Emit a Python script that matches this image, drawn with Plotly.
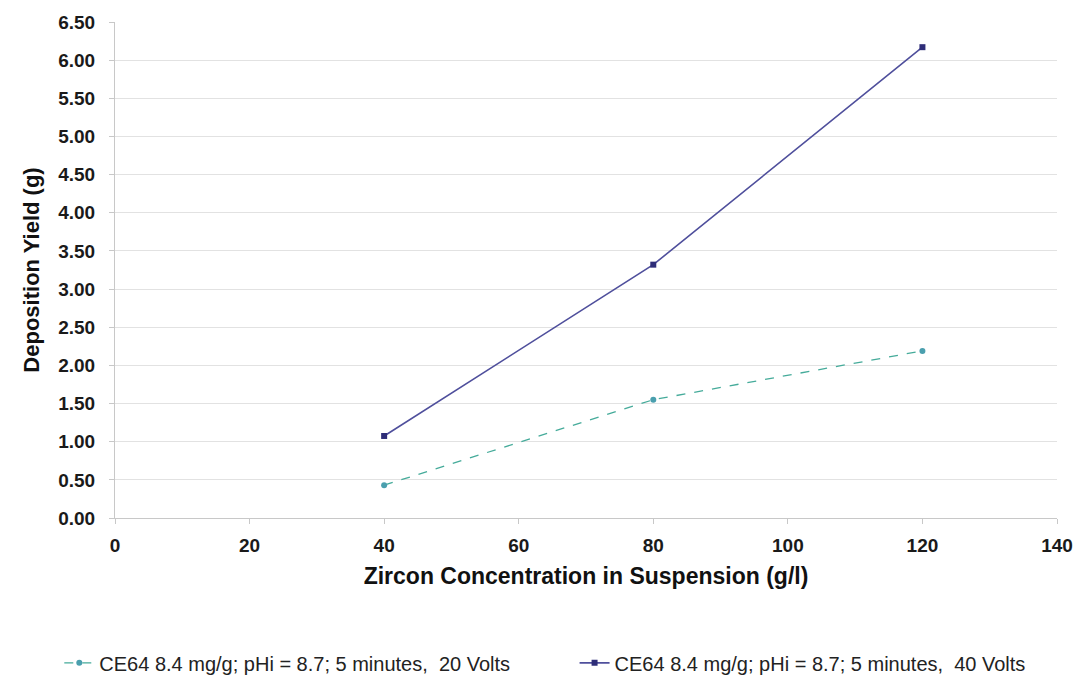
import plotly.graph_objects as go

# Zircon concentration (g/l) and deposition yield (g)
concentration = [40, 80, 120]
yield_20v = [0.43, 1.55, 2.19]
yield_40v = [1.075, 3.32, 6.17]

name_20v = "CE64 8.4 mg/g; pHi = 8.7; 5 minutes,  20 Volts"
name_40v = "CE64 8.4 mg/g; pHi = 8.7; 5 minutes,  40 Volts"

y_ticks = [i * 0.5 for i in range(14)]
x_ticks = list(range(0, 141, 20))

fig = go.Figure()
fig.add_trace(go.Scatter(
    x=concentration, y=yield_20v, name=name_20v, mode="lines+markers",
    line=dict(color="#45ab9a", width=1.3, dash="dash"),
    marker=dict(symbol="circle", size=6, color="#4a9fae"),
    legend="legend",
))
fig.add_trace(go.Scatter(
    x=concentration, y=yield_40v, name=name_40v, mode="lines+markers",
    line=dict(color="#4f4f9c", width=1.6),
    marker=dict(symbol="square", size=6, color="#2e2d78"),
    legend="legend2",
))

font_family = "Liberation Sans, Arial, sans-serif"
tick_font = dict(family=font_family, size=19, color="#1a1a1a", weight="bold")
x_title_font = dict(family=font_family, size=23, color="#111")
y_title_font = dict(family=font_family, size=22, color="#111")
legend_font = dict(family=font_family, size=20, color="#222")

legend_common = dict(
    orientation="h", xref="container", yref="container",
    xanchor="left", y=0.018, yanchor="middle",
    font=legend_font, itemwidth=30, bgcolor="rgba(0,0,0,0)",
)

fig.update_layout(
    width=1078, height=675,
    margin=dict(l=115, r=21, t=22, b=157, autoexpand=False),
    plot_bgcolor="white", paper_bgcolor="white",
    font=dict(family=font_family),
    showlegend=True,
    legend=dict(x=0.055, **legend_common),
    legend2=dict(x=0.533, **legend_common),
    xaxis=dict(
        range=[0, 140], tickvals=x_ticks, ticktext=[str(v) for v in x_ticks],
        showgrid=False, zeroline=False, showline=True, linecolor="#c8c8c8", linewidth=1,
        ticks="outside", ticklen=5, tickcolor="#c8c8c8",
        tickfont=tick_font, ticklabelstandoff=5,
        title=dict(text="<b>Zircon Concentration in Suspension (g/l)</b>",
                   font=x_title_font, standoff=13),
    ),
    yaxis=dict(
        range=[0, 6.5], tickvals=y_ticks, ticktext=[f"{v:.2f}" for v in y_ticks],
        showgrid=True, gridcolor="#e2e2e2", gridwidth=1,
        zeroline=False, showline=True, linecolor="#c8c8c8", linewidth=1,
        ticks="outside", ticklen=5, tickcolor="#c8c8c8",
        tickfont=tick_font, ticklabelstandoff=10,
        title=dict(text="<b>Deposition Yield (g)</b>",
                   font=y_title_font, standoff=12),
    ),
)

fig.write_html("out.html")
